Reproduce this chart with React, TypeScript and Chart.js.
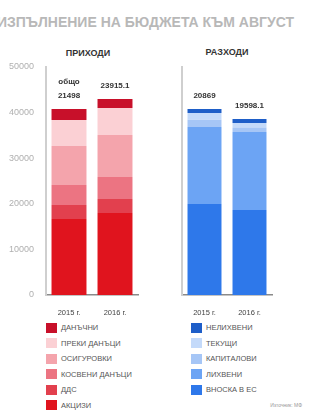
import React, { useEffect, useRef } from "react";
import { Chart, registerables } from "chart.js";

Chart.register(...registerables);

const years = ["2015 г.", "2016 г."];
const yTicks = [0, 10000, 20000, 30000, 40000, 50000];

const incomeNames = ["ДАНЪЧНИ", "ПРЕКИ ДАНЪЦИ", "ОСИГУРОВКИ", "КОСВЕНИ ДАНЪЦИ", "ДДС", "АКЦИЗИ"];
const incomeColors = ["#c8102a", "#fbd0d4", "#f4a4ac", "#ec7482", "#e2404e", "#e0141e"];
const taxRevenue = [2410, 1970];
const directTaxes = [5700, 5920];
const socialSecurity = [8550, 9210];
const indirectTaxes = [4390, 4820];
const vat = [3070, 3070];
const excise = [16670, 17980];
const incomeLabels = [["общо", "21498"], ["23915.1"]];

const expenseNames = ["НЕЛИХВЕНИ", "ТЕКУЩИ", "КАПИТАЛОВИ", "ЛИХВЕНИ", "ВНОСКА В ЕС"];
const expenseColors = ["#1e5ec8", "#c4dafa", "#a6c6f6", "#6ca4f4", "#2e78ea"];
const nonInterest = [880, 880];
const current = [1500, 1000];
const capital = [1570, 970];
const interest = [16890, 17100];
const euContribution = [19960, 18640];
const expenseLabels = [["20869"], ["19598.1"]];

const incomeSeries = [taxRevenue, directTaxes, socialSecurity, indirectTaxes, vat, excise];
const expenseSeries = [nonInterest, current, capital, interest, euContribution];

const FONT = "'Liberation Sans', Arial, sans-serif";

function makeLabelPlugin(labels: string[][]) {
  return {
    id: "totals",
    afterDatasetsDraw(chart: any) {
      const ctx = chart.ctx;
      const last = chart.data.datasets.length - 1;
      const meta = chart.getDatasetMeta(last);
      ctx.save();
      ctx.font = `bold 8px ${FONT}`;
      ctx.fillStyle = "#333";
      ctx.textAlign = "center";
      ctx.textBaseline = "middle";
      meta.data.forEach((bar: any, i: number) => {
        const lines = labels[i] || [];
        const n = lines.length;
        lines.forEach((t, k) => {
          const y = bar.y - 13 - (n - 1 - k) * 14;
          ctx.fillText(t, bar.x, y);
        });
      });
      ctx.restore();
    },
  };
}

function StackChart(props: {
  series: number[][];
  names: string[];
  colors: string[];
  labels: string[][];
  showTicks: boolean;
  axisWidth: number;
  width: number;
  height: number;
  padRight: number;
  barPct: number;
}) {
  const ref = useRef<HTMLCanvasElement>(null);
  useEffect(() => {
    const datasets = props.series
      .map((s, i) => ({
        label: props.names[i],
        data: s,
        backgroundColor: props.colors[i],
        borderWidth: 0,
        barPercentage: props.barPct,
        categoryPercentage: 1,
      }))
      .reverse();
    const chart = new Chart(ref.current!, {
      type: "bar",
      data: { labels: years, datasets },
      plugins: [makeLabelPlugin(props.labels)],
      options: {
        responsive: false,
        animation: false,
        devicePixelRatio: 1,
        layout: { padding: { top: 12, right: props.padRight, left: 0, bottom: 0 } },
        plugins: { legend: { display: false }, tooltip: { enabled: false } },
        scales: {
          x: {
            stacked: true,
            grid: { display: false },
            border: { display: true, color: "#8a8a8a", width: 1.5 },
            ticks: { color: "#444", font: { size: 7.5, family: FONT }, padding: 5, maxRotation: 0 },
            afterFit: (s: any) => {
              s.height = 25;
            },
          },
          y: {
            stacked: true,
            min: 0,
            max: 50000,
            grid: { display: false },
            border: { display: true, color: "#cfcfcf", width: 2 },
            afterBuildTicks: (s: any) => {
              s.ticks = yTicks.map((v) => ({ value: v }));
            },
            ticks: {
              display: props.showTicks,
              color: "#b0b0b0",
              font: { size: 9, family: FONT },
              padding: 4,
              callback: (v: any) => String(v),
            },
            afterFit: (s: any) => {
              s.width = props.axisWidth;
            },
          },
        },
      } as any,
    });
    return () => chart.destroy();
  }, []);
  return (
    <canvas
      ref={ref}
      width={props.width}
      height={props.height}
      style={{ width: props.width, height: props.height, display: "block" }}
    />
  );
}

function Legend(props: { names: string[]; colors: string[]; left: number }) {
  return (
    <div style={{ position: "absolute", left: props.left, top: 320 }}>
      {props.names.map((n, i) => (
        <div
          key={n}
          style={{ display: "flex", alignItems: "center", height: 15.5, fontFamily: FONT, fontSize: 7.5, color: "#555" }}
        >
          <div style={{ width: 11, height: 10, background: props.colors[i], marginRight: 4 }} />
          <span>{n}</span>
        </div>
      ))}
    </div>
  );
}

export default function App() {
  return (
    <div style={{ position: "absolute", left: 0, top: 0, width: 310, height: 412, background: "#fff", overflow: "hidden" }}>
      <div
        style={{
          position: "absolute",
          right: 16,
          top: 14,
          whiteSpace: "nowrap",
          fontFamily: FONT,
          fontWeight: "bold",
          fontSize: 14,
          color: "#b8b8b8",
        }}
      >
        ИЗПЪЛНЕНИЕ НА БЮДЖЕТА КЪМ АВГУСТ
      </div>
      <div style={{ position: "absolute", left: 60, width: 56, top: 48, textAlign: "center", fontFamily: FONT, fontWeight: "bold", fontSize: 9, color: "#333" }}>
        ПРИХОДИ
      </div>
      <div style={{ position: "absolute", left: 199, width: 56, top: 47, textAlign: "center", fontFamily: FONT, fontWeight: "bold", fontSize: 9, color: "#333" }}>
        РАЗХОДИ
      </div>
      <div style={{ position: "absolute", left: 0, top: 55 }}>
        <StackChart
          series={incomeSeries}
          names={incomeNames}
          colors={incomeColors}
          labels={incomeLabels}
          showTicks={true}
          axisWidth={46}
          width={145}
          height={265}
          padRight={7}
          barPct={0.76}
        />
      </div>
      <div style={{ position: "absolute", left: 150, top: 55 }}>
        <StackChart
          series={expenseSeries}
          names={expenseNames}
          colors={expenseColors}
          labels={expenseLabels}
          showTicks={false}
          axisWidth={32}
          width={130}
          height={265}
          padRight={8}
          barPct={0.755}
        />
      </div>
      <Legend names={incomeNames} colors={incomeColors} left={46} />
      <Legend names={expenseNames} colors={expenseColors} left={191} />
      <div style={{ position: "absolute", right: 8, top: 402, fontFamily: FONT, fontSize: 5, color: "#999" }}>
        Източник: МФ
      </div>
    </div>
  );
}
